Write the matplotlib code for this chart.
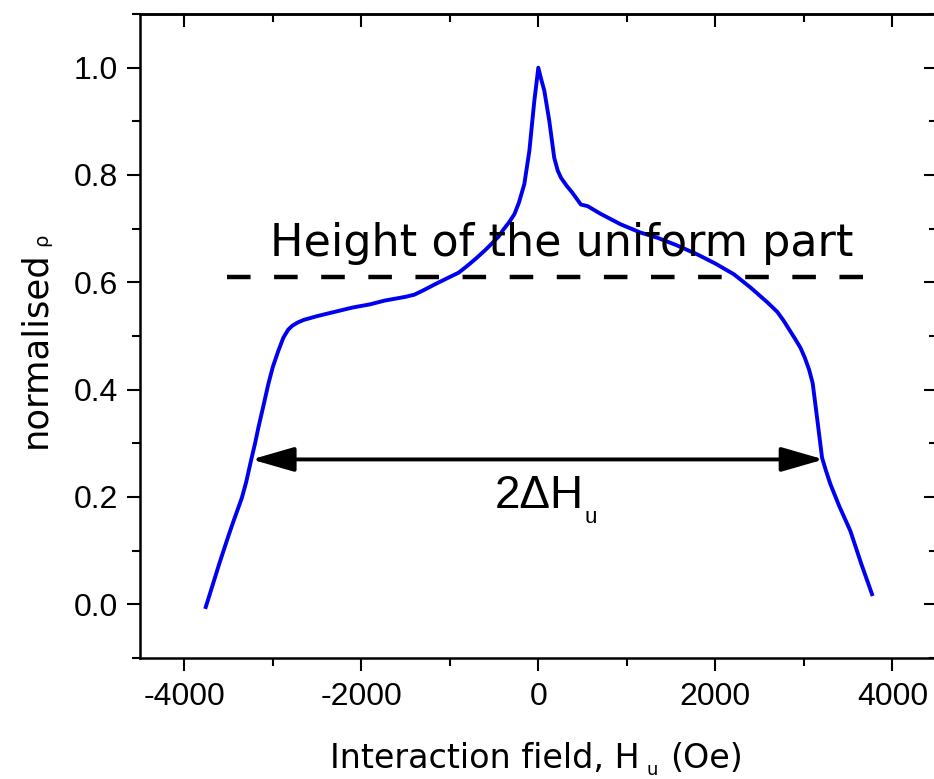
import matplotlib
matplotlib.use('Agg')
import matplotlib.pyplot as plt
from matplotlib.ticker import MultipleLocator
from matplotlib.patches import ArrowStyle

# ---- data ----
field = [-3757, -3700, -3600, -3500, -3450, -3400, -3350, -3300, -3247, -3200,
         -3163, -3100, -3051, -3000, -2938, -2880, -2825, -2780, -2720, -2650,
         -2500, -2300, -2100, -1900, -1736, -1500, -1400, -1300, -1172, -1000,
         -900, -800, -700, -600, -533, -450, -400, -330, -270, -220,
         -158, -101, -45, -20, 0, 30, 68, 124, 180, 220,
         256, 320, 380, 481, 557, 700, 932, 1150, 1346, 1550,
         1797, 2000, 2210, 2400, 2586, 2700, 2774, 2850, 2900, 2962,
         3010, 3060, 3100, 3150, 3206, 3250, 3300, 3400, 3525, 3650,
         3770]
rho = [-0.005, 0.025, 0.078, 0.128, 0.152, 0.175, 0.198, 0.228, 0.267, 0.300,
       0.329, 0.374, 0.410, 0.442, 0.472, 0.497, 0.512, 0.519, 0.525, 0.530,
       0.537, 0.545, 0.553, 0.559, 0.566, 0.573, 0.577, 0.585, 0.596, 0.610,
       0.618, 0.631, 0.645, 0.660, 0.671, 0.685, 0.697, 0.712, 0.727, 0.748,
       0.783, 0.845, 0.938, 0.972, 1.000, 0.980, 0.957, 0.901, 0.832, 0.808,
       0.795, 0.780, 0.768, 0.745, 0.742, 0.728, 0.708, 0.693, 0.683, 0.670,
       0.652, 0.635, 0.615, 0.590, 0.563, 0.545, 0.528, 0.508, 0.495, 0.478,
       0.460, 0.437, 0.412, 0.347, 0.273, 0.249, 0.224, 0.183, 0.137, 0.075,
       0.019]

xticks = [-4000, -2000, 0, 2000, 4000]
xticklabels = ['-4000', '-2000', '0', '2000', '4000']
yticks = [0.0, 0.2, 0.4, 0.6, 0.8, 1.0]
yticklabels = ['0.0', '0.2', '0.4', '0.6', '0.8', '1.0']

uniform_level = 0.61
uniform_span = [-3520, 3715]
arrow_level = 0.27
arrow_span = [-3240, 3225]

W, H = 934, 779
fig = plt.figure(figsize=(W / 100, H / 100), dpi=100)
ax = fig.add_axes([140 / W, 121 / H, 796.6 / W, 644 / H])

ax.plot(field, rho, color='#0000f0', lw=2.8, solid_joinstyle='round')
ax.plot(uniform_span, [uniform_level] * 2, color='black', lw=3.2,
        linestyle=(0, (5.3, 5.3)))
ax.annotate('', xy=(arrow_span[0], arrow_level), xytext=(arrow_span[1], arrow_level),
            arrowprops=dict(arrowstyle=ArrowStyle('<|-|>', head_length=2.6, head_width=0.75),
                            mutation_scale=10, lw=2.8, color='black',
                            shrinkA=0, shrinkB=0))

ax.set_xlim(-4500, 4500)
ax.set_ylim(-0.1, 1.1)
ax.set_xticks(xticks)
ax.set_xticklabels(xticklabels)
ax.set_yticks(yticks)
ax.set_yticklabels(yticklabels)
ax.xaxis.set_minor_locator(MultipleLocator(1000))
ax.yaxis.set_minor_locator(MultipleLocator(0.1))
ax.tick_params(which='both', direction='out', width=1.5, top=False, right=False,
               labelsize=23, colors='black')
ax.tick_params(which='major', length=9.5)
ax.tick_params(which='minor', length=5.5)
ax.tick_params(axis='y', pad=6.5)
ax.tick_params(axis='x', pad=8)
for lbl in ax.get_xticklabels() + ax.get_yticklabels():
    lbl.set_fontfamily('Liberation Sans')
for sp in ax.spines.values():
    sp.set_linewidth(1.8)

secx = ax.secondary_xaxis('top')
secx.set_xticks(xticks)
secx.xaxis.set_minor_locator(MultipleLocator(1000))
secx.tick_params(which='both', direction='in', width=1.5, labeltop=False)
secx.tick_params(which='major', length=9.5)
secx.tick_params(which='minor', length=5.5)
secx.spines['top'].set_linewidth(1.8)

secy = ax.secondary_yaxis('right')
secy.set_yticks(yticks)
secy.yaxis.set_minor_locator(MultipleLocator(0.1))
secy.tick_params(which='both', direction='in', width=1.5, labelright=False)
secy.tick_params(which='major', length=9.5)
secy.tick_params(which='minor', length=5.5)
secy.spines['right'].set_linewidth(1.8)

# annotations
ax.text(267, 0.649, 'Height of the uniform part', ha='center', va='baseline',
        fontsize=32, family='DejaVu Sans')
ax.text(-497, 0.180, '2\u0394H', ha='left', va='baseline', fontsize=33,
        family='Liberation Sans')
ax.text(519, 0.152, 'u', ha='left', va='baseline', fontsize=16,
        family='Liberation Sans')

# x label (with low subscript)
fig.text(640 / W, (H - 768) / H, 'Interaction field, H', ha='right', va='baseline',
         fontsize=24, family='DejaVu Sans')
fig.text(647 / W, 4 / H, 'u', ha='left', va='baseline', fontsize=13,
         family='DejaVu Sans')
fig.text(670 / W, (H - 768) / H, '(Oe)', ha='left', va='baseline',
         fontsize=24, family='DejaVu Sans')

# y label
fig.text(45 / W, (H - 448) / H, 'normalised', rotation=90, rotation_mode='anchor',
         ha='left', va='baseline', fontsize=25.5, family='DejaVu Sans')
fig.text(47 / W, (H - 246) / H, '\u03c1', rotation=90, rotation_mode='anchor',
         ha='left', va='baseline', fontsize=14, family='DejaVu Sans')

fig.savefig('out.png', dpi=100)
